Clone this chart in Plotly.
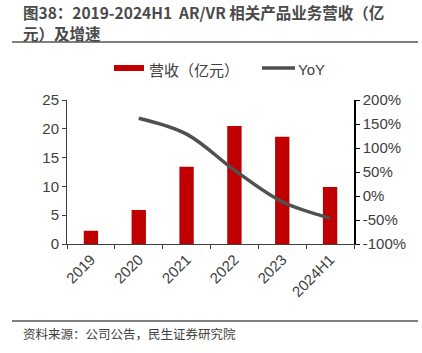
import plotly.graph_objects as go

categories = ["2019", "2020", "2021", "2022", "2023", "2024H1"]
revenue = [2.3, 5.9, 13.4, 20.5, 18.6, 9.9]
yoy_cats = ["2020", "2021", "2022", "2023", "2024H1"]
yoy = [162, 129, 54, -12, -46]

left_ticks = [0, 5, 10, 15, 20, 25]
right_ticks = [-100, -50, 0, 50, 100, 150, 200]
right_labels = [f"{v}%" for v in right_ticks]

FONT = "Liberation Sans, Arial, Noto Sans CJK SC, sans-serif"
CJK = "Noto Sans CJK SC, sans-serif"
TXT = "#404040"
BAR = "#C00000"
LINE = "#505050"

# plot area in pixels
L, R, T, B = 67, 354, 100, 244
W, H = R - L, B - T


def px(x):
    return (x - L) / W


def py(y):
    return (B - y) / H


fig = go.Figure()
fig.add_trace(go.Bar(
    x=categories, y=revenue, name="营收（亿元）",
    marker=dict(color=BAR, line=dict(width=0)),
    width=0.3, yaxis="y", showlegend=False,
))
fig.add_trace(go.Scatter(
    x=yoy_cats, y=yoy, name="YoY", mode="lines",
    line=dict(color=LINE, width=3.5, shape="spline", smoothing=1.0),
    yaxis="y2", showlegend=False,
))

fig.update_layout(
    width=422, height=353,
    margin=dict(l=L, r=422 - R, t=T, b=353 - B),
    paper_bgcolor="white", plot_bgcolor="white",
    font=dict(family=FONT, size=15, color=TXT),
    bargap=0.7,
    xaxis=dict(
        type="category", tickangle=-45, showline=True, linecolor="#404040", linewidth=1,
        ticks="outside", ticklen=4, tickcolor="#404040", tickson="boundaries",
        showgrid=False, tickfont=dict(size=15, color=TXT),
    ),
    yaxis=dict(
        range=[0, 25], tickvals=left_ticks, showline=True, linecolor="#404040", linewidth=1,
        ticks="outside", ticklen=4, tickcolor="#404040", showgrid=False, zeroline=False,
        tickfont=dict(size=15, color=TXT),
    ),
    yaxis2=dict(
        range=[-100, 200], tickvals=right_ticks, ticktext=right_labels, overlaying="y",
        side="right", showline=True, linecolor="#000000", linewidth=1.5,
        ticks="outside", ticklen=4, tickcolor="#000000", showgrid=False, zeroline=False,
        tickfont=dict(size=15, color=TXT),
    ),
)

# title
fig.add_annotation(text="<b>图38：2019-2024H1  AR/VR 相关产品业务营收（亿</b>",
                   xref="paper", yref="paper", x=px(21), y=py(12), xanchor="left", yanchor="middle",
                   align="left", showarrow=False,
                   font=dict(family=CJK, size=15.5, color="#4a4a4a"))
fig.add_annotation(text="<b>元）及增速</b>",
                   xref="paper", yref="paper", x=px(21), y=py(33), xanchor="left", yanchor="middle",
                   align="left", showarrow=False,
                   font=dict(family=CJK, size=15.5, color="#4a4a4a"))
fig.add_shape(type="line", xref="paper", yref="paper", x0=px(12), x1=px(418),
              y0=py(42), y1=py(42), line=dict(color="#555555", width=1.5))

# legend
fig.add_shape(type="rect", xref="paper", yref="paper", x0=px(114), x1=px(144),
              y0=py(65), y1=py(71), fillcolor=BAR, line=dict(width=0))
fig.add_annotation(text="营收（亿元）", xref="paper", yref="paper", x=px(147), y=py(69),
                   xanchor="left", yanchor="middle", showarrow=False,
                   font=dict(family=CJK, size=15, color=TXT))
fig.add_shape(type="line", xref="paper", yref="paper", x0=px(262), x1=px(295),
              y0=py(68), y1=py(68), line=dict(color=LINE, width=3.5))
fig.add_annotation(text="YoY", xref="paper", yref="paper", x=px(296), y=py(69),
                   xanchor="left", yanchor="middle", showarrow=False,
                   font=dict(family=FONT, size=15, color=TXT))

# source
fig.add_shape(type="line", xref="paper", yref="paper", x0=px(12), x1=px(418),
              y0=py(321), y1=py(321), line=dict(color="#555555", width=1.5))
fig.add_annotation(text="资料来源：公司公告，民生证券研究院",
                   xref="paper", yref="paper", x=px(21), y=py(333), xanchor="left", yanchor="middle",
                   align="left", showarrow=False,
                   font=dict(family=CJK, size=12.5, color="#404040"))

fig.write_html("out.html")
